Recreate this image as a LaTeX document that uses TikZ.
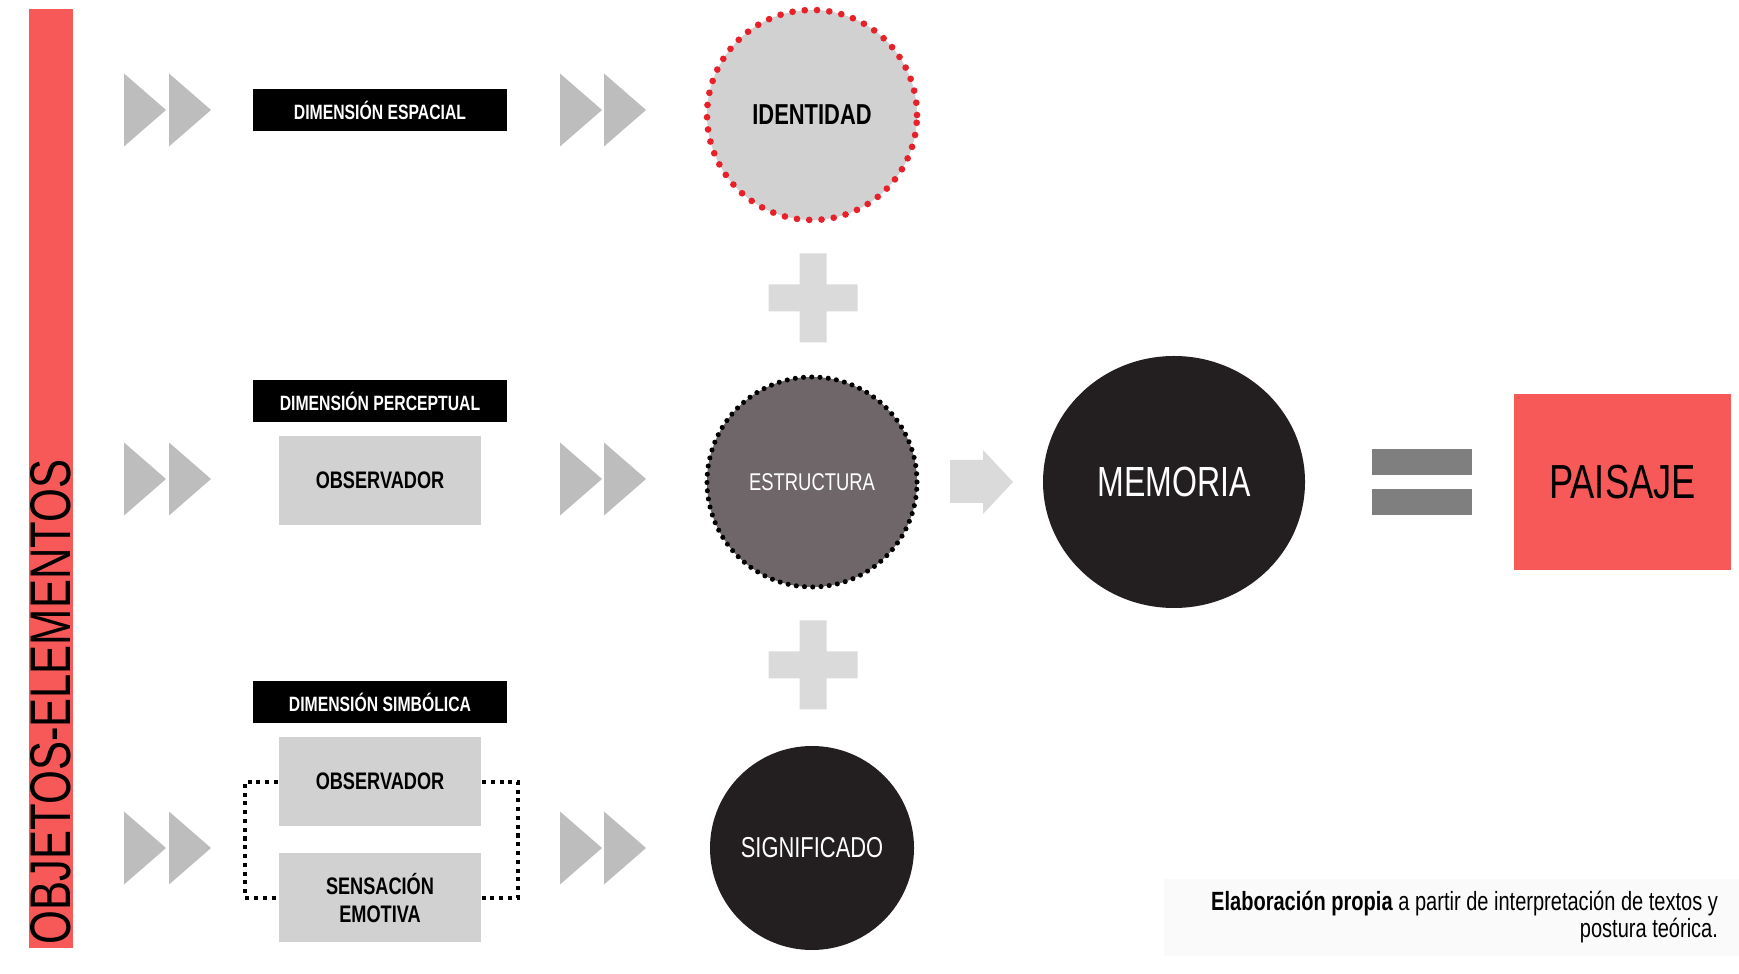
\documentclass[tikz,border=0pt]{standalone}
\usepackage{fontspec}
\setmainfont{Liberation Sans}[FakeStretch=0.76]
\usepackage{xcolor}
\definecolor{coral}{HTML}{F75858}
\definecolor{ink}{HTML}{231F20}
\definecolor{pale}{HTML}{D1D1D1}
\definecolor{wedge}{HTML}{BDBDBD}
\definecolor{cross}{HTML}{DADADA}
\definecolor{stone}{HTML}{6E6668}
\definecolor{bars}{HTML}{7F7F7F}
\definecolor{dotred}{HTML}{E8202A}
\usepackage{tikz}
\usetikzlibrary{positioning,calc,shapes.geometric}
\newcommand{\fsz}[2]{\fontsize{#1}{#2}\selectfont}
\tikzset{
  every picture/.style={line width=0.6pt},
  tag/.style={fill=black, text=white, font=\fsz{5.9}{7}\bfseries, minimum width=2.54cm, minimum height=0.42cm, inner sep=0pt},
  card/.style={fill=pale, font=\fsz{6.8}{7.9}\bfseries, minimum width=2.02cm, minimum height=0.89cm, inner sep=0pt, align=center},
  disc/.style={circle, inner sep=0pt, minimum size=#1},
  disc/.default=2.1cm,
  dots/.style={draw=#1, line width=1.9pt, line cap=round, dash pattern=on 0pt off 3.5pt},
  bracket/.style={draw=black, line width=1.15pt, dash pattern=on 1.15pt off 1.35pt},
}

\begin{document}
\begin{tikzpicture}[
    big/.style={font=\fsz{#1}{#1}},
    fine/.style={line width=1.45pt, dash pattern=on 0pt off 2.35pt}]
  \useasboundingbox (0,0) rectangle (17.39,-9.74);
  \node[fill=coral, minimum width=0.44cm, minimum height=9.39cm, inner sep=0pt] (bar) at (0.51,-4.785) {};
  \node[rotate=90, big=16.3] (objetos) at (0.51,-7.02) {OBJETOS-ELEMENTOS};

  \node[tag] (espacial) at (3.80,-1.10) {DIMENSIÓN ESPACIAL};
  \node[tag] (perceptual) at (3.80,-4.01) {DIMENSIÓN PERCEPTUAL};
  \node[card, below=0.12cm of perceptual] (obs1) {OBSERVADOR};
  \node[tag] (simbolica) at (3.80,-7.02) {DIMENSIÓN SIMBÓLICA};
  \node[card, below=0.12cm of simbolica] (obs2) {OBSERVADOR};
  \node[card, below=0.25cm of obs2] (emotiva) {SENSACIÓN\\EMOTIVA};
  \draw[bracket] (obs2.west) -- ++(-0.33,0) |- (emotiva.west);
  \draw[bracket] (obs2.east) -- ++(0.36,0) |- (emotiva.east);

  \foreach \y in {-1.10,-4.79,-8.48}
    \foreach \x in {1.24,1.69,5.60,6.04}
      \fill[wedge] (\x,\y) +(0,0.365) -- +(0.42,0) -- +(0,-0.365) -- cycle;

  \node[disc, fill=pale, dots=dotred, font=\fsz{8.2}{8.2}\bfseries] (identidad) at (8.12,-1.15) {IDENTIDAD};
  \node[disc, fill=stone, dots=black, fine, text=white, big=6.9] (estructura) at (8.12,-4.82) {ESTRUCTURA};
  \node[disc=2.04cm, fill=ink, text=white, big=8.2] (significado) at (8.12,-8.48) {SIGNIFICADO};
  \foreach \y in {-2.98,-6.65}
    \fill[cross] (8.13,\y) +(-0.445,-0.135) rectangle +(0.445,0.135) +(-0.135,-0.445) rectangle +(0.135,0.445);

  \fill[cross] (9.50,-4.60) -- (9.83,-4.60) -- (9.83,-4.50) -- (10.13,-4.82)
    -- (9.83,-5.14) -- (9.83,-5.03) -- (9.50,-5.03) -- cycle;
  \node[ellipse, fill=ink, minimum width=2.62cm, minimum height=2.52cm, inner sep=0pt, text=white, big=12] (memoria) at (11.74,-4.82) {MEMORIA};
  \fill[bars] (13.72,-4.49) rectangle (14.72,-4.75);
  \fill[bars] (13.72,-4.89) rectangle (14.72,-5.15);
  \node[fill=coral, minimum width=2.17cm, minimum height=1.76cm, big=13.6] (paisaje) at (16.225,-4.82) {PAISAJE};

  \fill[black!2] (11.64,-8.79) rectangle (17.39,-9.56);
  \node[anchor=east, align=right, inner sep=0pt, font=\fsz{7.5}{7.9}] (fuente) at (17.19,-9.17) {\textbf{Elaboración propia} a partir de interpretación de textos y\\postura teórica.};
\end{tikzpicture}
\end{document}
